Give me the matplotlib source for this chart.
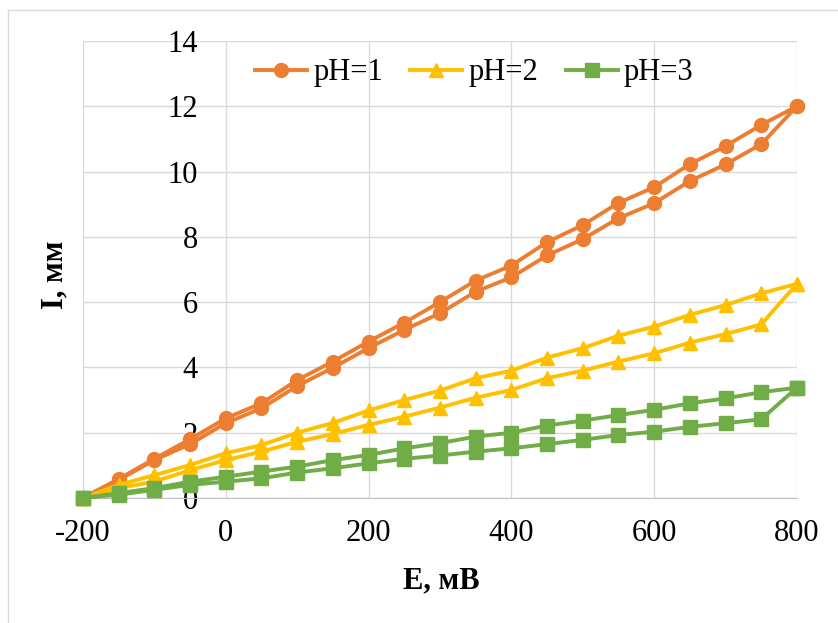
import matplotlib.pyplot as plt
from matplotlib.lines import Line2D

# potential, mV (forward sweep; the backward sweep goes the same way back)
E = [-200, -150, -100, -50, 0, 50, 100, 150, 200, 250, 300, 350, 400,
     450, 500, 550, 600, 650, 700, 750, 800]

# pH=1
ph1_low = [0, 0.55, 1.16, 1.65, 2.29, 2.75, 3.43, 3.99, 4.59, 5.15, 5.66,
           6.32, 6.76, 7.43, 7.93, 8.57, 9.03, 9.71, 10.22, 10.84, 12.0]
ph1_up = [0, 0.58, 1.2, 1.8, 2.44, 2.9, 3.61, 4.18, 4.79, 5.37, 6.0,
          6.66, 7.12, 7.84, 8.36, 9.04, 9.52, 10.23, 10.78, 11.43, 12.0]
# pH=2
ph2_low = [0, 0.3, 0.5, 0.85, 1.16, 1.42, 1.72, 1.96, 2.24, 2.49, 2.77,
           3.07, 3.31, 3.67, 3.9, 4.18, 4.43, 4.76, 5.02, 5.32, 6.56]
ph2_up = [0, 0.4, 0.7, 1.01, 1.37, 1.62, 2.0, 2.3, 2.68, 3.0, 3.29,
          3.67, 3.9, 4.3, 4.59, 4.97, 5.25, 5.61, 5.91, 6.27, 6.56]
# pH=3
ph3_low = [0, 0.1, 0.25, 0.4, 0.5, 0.6, 0.78, 0.91, 1.06, 1.2, 1.3,
           1.42, 1.52, 1.65, 1.78, 1.93, 2.03, 2.18, 2.29, 2.41, 3.38]
ph3_up = [0, 0.15, 0.3, 0.5, 0.65, 0.81, 0.96, 1.16, 1.32, 1.52, 1.68,
          1.88, 2.0, 2.22, 2.37, 2.54, 2.7, 2.9, 3.05, 3.24, 3.38]

labels = ['pH=1', 'pH=2', 'pH=3']
colors = ['#ED7D31', '#FFC000', '#70AD47']
markers = ['o', '^', 's']

plt.rcParams['font.family'] = 'Liberation Serif'
plt.rcParams['axes.unicode_minus'] = False

fig = plt.figure(figsize=(8.38, 6.23), dpi=100)
ax = fig.add_axes([0.099, 0.2007, 0.852, 0.7335])

series = [(ph1_low, ph1_up), (ph2_low, ph2_up), (ph3_low, ph3_up)]
for (low, up), lab, col, mk in zip(series, labels, colors, markers):
    xs = E + E[::-1]
    ys = low + up[::-1]
    ax.plot(xs, ys, color=col, lw=2.8, marker=mk, ms=10, label=lab,
            clip_on=False, zorder=3)

ax.set_xlim(-200, 800)
ax.set_ylim(0, 14)
ax.set_xticks([-200, 0, 200, 400, 600, 800])
ax.set_yticks(range(0, 15, 2))
ax.grid(True, color='#d9d9d9', lw=1)

ax.spines['left'].set_position(('data', 0))
ax.spines['left'].set_visible(False)
ax.spines['top'].set_visible(False)
ax.spines['right'].set_visible(False)
ax.spines['bottom'].set_color('#bfbfbf')

ax.tick_params(axis='y', length=0, pad=20, labelsize=22)
ax.tick_params(axis='x', length=0, pad=15, labelsize=22)

ax.legend(loc='center', bbox_to_anchor=(0.548, 0.930), ncol=3, frameon=False,
          fontsize=22, handlelength=1.7, handletextpad=0.2, columnspacing=0.9)

fig.text(441 / 838, 1 - 581 / 623, 'E, мВ', ha='center', va='center',
         fontsize=22, fontweight='bold')
fig.text(55 / 838, 1 - 275 / 623, 'I, мм', ha='center', va='center',
         rotation=90, fontsize=22, fontweight='bold')

# chart border
fig.add_artist(Line2D([8 / 838, 8 / 838], [0, 1 - 10 / 623], color='#d9d9d9',
                      lw=1, transform=fig.transFigure))
fig.add_artist(Line2D([8 / 838, 1], [1 - 10 / 623, 1 - 10 / 623], color='#d9d9d9',
                      lw=1, transform=fig.transFigure))

fig.savefig('out.png', dpi=100)
